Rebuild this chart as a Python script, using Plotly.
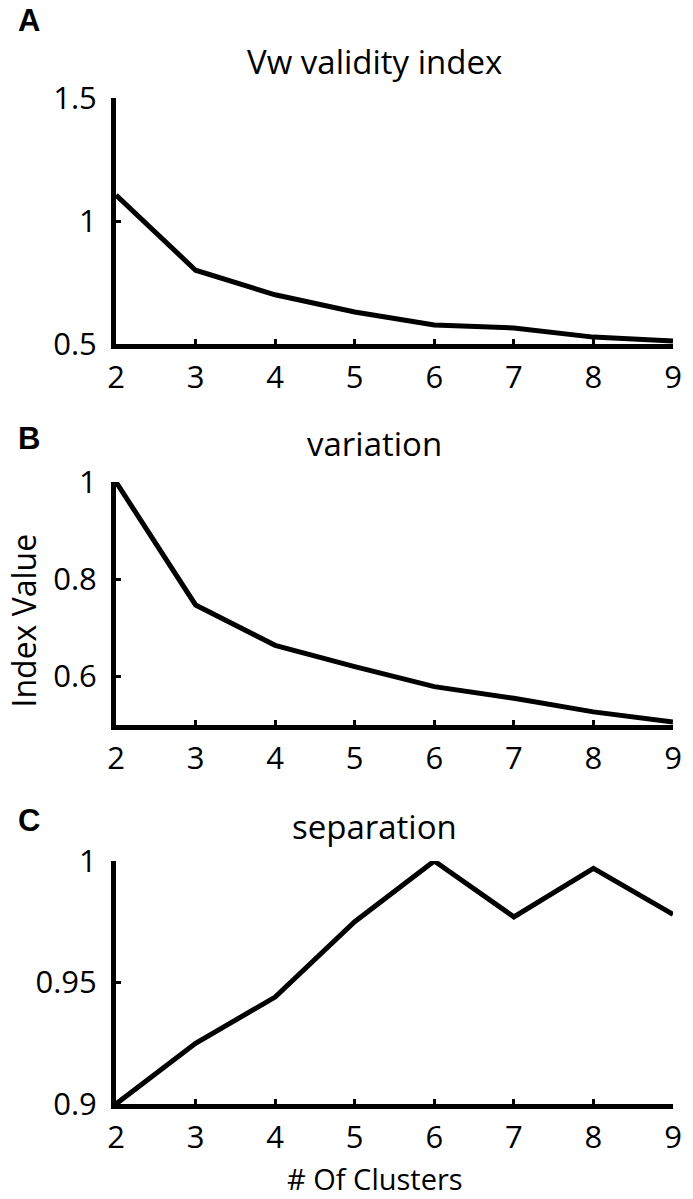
import plotly.graph_objects as go

clusters = [2, 3, 4, 5, 6, 7, 8, 9]
vw_index = [1.105, 0.80, 0.70, 0.63, 0.577, 0.565, 0.528, 0.512]
variation = [1.0, 0.747, 0.664, 0.62, 0.579, 0.555, 0.527, 0.506]
separation = [0.9, 0.925, 0.944, 0.975, 1.0, 0.977, 0.997, 0.978]

titles = ["Vw validity index", "variation", "separation"]
letters = ["A", "B", "C"]

W, H = 693, 1199
ML, MR, MT, MB = 116, 11, 98, 95
PH = H - MT - MB
PW = W - ML - MR


def py(pix):
    return (H - MB - pix) / PH


def px(pix):
    return (pix - ML) / PW


FONT = "Open Sans"

fig = go.Figure()

domains = [(py(344), py(98)), (py(725), py(482)), (py(1104), py(861))]
series = [vw_index, variation, separation]
yranges = [(0.5, 1.5), (0.5, 1.0), (0.9, 1.0)]
ytickvals = [[0.5, 1, 1.5], [0.6, 0.8, 1], [0.9, 0.95, 1]]
yticktext = [["0.5", "1", "1.5"], ["0.6", "0.8", "1"], ["0.9", "0.95", "1"]]

for i in range(3):
    n = "" if i == 0 else str(i + 1)
    fig.add_trace(go.Scatter(x=clusters, y=series[i], mode="lines",
                             line=dict(color="black", width=5),
                             xaxis="x" + n, yaxis="y" + n, showlegend=False,
                             cliponaxis=False))
    axcommon = dict(showline=True, linecolor="black", linewidth=5, mirror=False,
                    showgrid=False, zeroline=False, ticks="inside", ticklen=5,
                    tickwidth=3, tickcolor="black",
                    tickfont=dict(family=FONT, size=31, color="black"))
    fig.update_layout(**{
        "xaxis" + n: dict(domain=[0, 1], range=[2, 9], tickvals=clusters,
                          anchor="y" + n, ticklabelstandoff=2, **axcommon),
        "yaxis" + n: dict(domain=list(domains[i]), range=list(yranges[i]),
                          tickvals=ytickvals[i], ticktext=yticktext[i],
                          anchor="x" + n, ticklabelstandoff=8, **axcommon),
    })

title_pix = [61, 443, 826]
letter_pix = [20, 438, 820]
annotations = []
for i in range(3):
    annotations.append(dict(text=titles[i], x=px(379), y=py(title_pix[i]), xref="paper", yref="paper",
                            xanchor="center", yanchor="middle", showarrow=False,
                            font=dict(family=FONT, size=33, color="black")))
    annotations.append(dict(text="<b>" + letters[i] + "</b>", x=px(28),
                            y=py(letter_pix[i]), xref="paper", yref="paper",
                            xanchor="center", yanchor="middle", showarrow=False,
                            font=dict(family="Liberation Sans", size=31, color="black")))
annotations.append(dict(text="Index Value", x=px(22), y=py(620),
                        xref="paper", yref="paper", textangle=-90,
                        xanchor="center", yanchor="middle", showarrow=False,
                        font=dict(family=FONT, size=32, color="black")))
annotations.append(dict(text="# Of Clusters", x=px(379), y=py(1178),
                        xref="paper", yref="paper",
                        xanchor="center", yanchor="middle", showarrow=False,
                        font=dict(family=FONT, size=29, color="black")))

fig.update_layout(width=W, height=H, margin=dict(l=ML, r=MR, t=MT, b=MB),
                  plot_bgcolor="white", paper_bgcolor="white",
                  annotations=annotations, showlegend=False)

fig.write_html("out.html", config={"displayModeBar": False},
               post_script="document.body.style.margin='0';document.body.style.overflow='hidden';")
